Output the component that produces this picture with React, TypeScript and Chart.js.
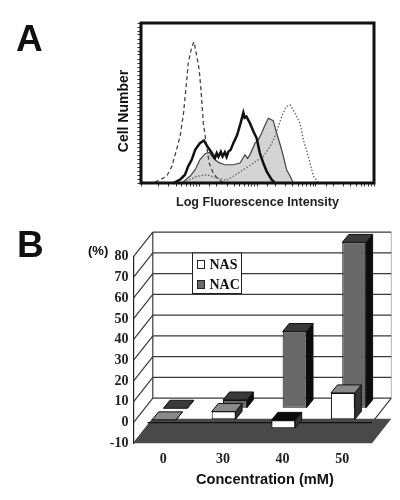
import React, { useEffect, useRef } from "react";
import { Chart, registerables } from "chart.js";

Chart.register(...registerables);

// Panel A: log10 intensity / cell count
const dashedLog = [0, 0.21, 0.33, 0.44, 0.53, 0.61, 0.67, 0.73, 0.78, 0.81, 0.87, 0.91, 0.96, 1.0, 1.03, 1.07, 1.12, 1.17, 1.24, 1.33, 1.41, 1.59];
const dashedCount = [0, 0.2, 2.1, 4.2, 10.4, 20.8, 29, 43.6, 62.2, 74.7, 85, 88.2, 78.8, 70.5, 58, 37.4, 24.9, 12.5, 6.2, 2.1, 0.4, 0];
const thickLog = [0.555, 0.67, 0.755, 0.81, 0.87, 0.93, 1.01, 1.08, 1.14, 1.2, 1.27, 1.3, 1.33, 1.37, 1.4, 1.44, 1.47, 1.5, 1.54, 1.585, 1.65, 1.71, 1.757, 1.78, 1.81, 1.87, 1.93, 1.986, 2.04, 2.1, 2.157, 2.243, 2.3];
const thickCount = [0, 2.1, 5.2, 10.4, 14.5, 20.8, 24.9, 26.6, 22.8, 19.7, 15.6, 18.6, 16.4, 19.4, 16.6, 19.2, 16.4, 19.6, 20.8, 24.9, 30, 37.4, 44, 40.8, 41.5, 37.4, 32.2, 28, 18.7, 12.5, 7.3, 2.1, 0];
const filledLog = [0.7, 0.84, 0.93, 1.01, 1.1, 1.17, 1.24, 1.33, 1.44, 1.585, 1.7, 1.74, 1.785, 1.83, 1.87, 1.957, 2.014, 2.07, 2.13, 2.186, 2.27, 2.33, 2.415, 2.5, 2.56, 2.615];
const filledCount = [0, 4.2, 8.3, 14.5, 18.3, 19.1, 15.6, 12.9, 11.4, 11.4, 12.5, 15, 17.6, 15.4, 17.6, 24.9, 27, 31.1, 36.3, 40.5, 39, 31.1, 20.8, 8.3, 4.2, 0];
const dottedLog = [0.727, 0.956, 1.127, 1.3, 1.47, 1.585, 1.757, 1.93, 2.1, 2.215, 2.3, 2.358, 2.415, 2.49, 2.56, 2.644, 2.73, 2.787, 2.873, 2.96, 3.044, 3.13];
const dottedCount = [0, 4.2, 5.2, 3.1, 1.7, 4.2, 8.3, 12.5, 16.6, 22.8, 29, 35.3, 41.5, 47.7, 48.8, 43.6, 37.4, 27, 16.6, 4.2, 0.4, 0];

// Panel B
const concentrations = ["0", "30", "40", "50"];
const nasValues = [0, 4, -4, 13];
const nacValues = [0, 4, 37, 80];

const pts = (xs: number[], ys: number[]) => xs.map((x, i) => ({ x: 10 ** x, y: ys[i] }));

function dither(a: string, b: string) {
  const c = document.createElement("canvas");
  c.width = c.height = 2;
  const g = c.getContext("2d")!;
  g.fillStyle = a;
  g.fillRect(0, 0, 2, 2);
  g.fillStyle = b;
  g.fillRect(0, 0, 1, 1);
  g.fillRect(1, 1, 1, 1);
  return g.createPattern(c, "repeat")!;
}

export default function App() {
  const refA = useRef<HTMLCanvasElement>(null);
  const refB = useRef<HTMLCanvasElement>(null);

  useEffect(() => {
    const frame = {
      id: "frame",
      afterDraw(chart: any) {
        const { ctx, chartArea: a } = chart;
        ctx.save();
        ctx.strokeStyle = "#111";
        ctx.lineWidth = 3;
        ctx.strokeRect(a.left, a.top, a.right - a.left, a.bottom - a.top);
        ctx.restore();
      },
    };
    const chartA = new Chart(refA.current!, {
      type: "scatter",
      data: {
        datasets: [
          { label: "thick", data: pts(thickLog, thickCount), showLine: true, pointRadius: 0, borderColor: "#111", borderWidth: 2.5, tension: 0 },
          { label: "dashed", data: pts(dashedLog, dashedCount), showLine: true, pointRadius: 0, borderColor: "#444", borderWidth: 1.3, borderDash: [4, 3] },
          { label: "dotted", data: pts(dottedLog, dottedCount), showLine: true, pointRadius: 0, borderColor: "#666", borderWidth: 1.3, borderDash: [1.5, 1.8] },
          { label: "filled", data: pts(filledLog, filledCount), showLine: true, pointRadius: 0, borderColor: "#444", borderWidth: 1.2, backgroundColor: "#d4d4d4", fill: "origin" },
        ],
      },
      options: {
        animation: false,
        responsive: false,
        layout: { padding: { left: 113, right: 26, top: 23, bottom: 5 } },
        plugins: { legend: { display: false }, tooltip: { enabled: false } },
        scales: {
          x: {
            type: "logarithmic",
            min: 1,
            max: 10000,
            ticks: { display: false },
            grid: { drawOnChartArea: false, tickLength: 3.5, tickColor: "#333", tickWidth: 1 },
            border: { display: false },
            title: { display: true, text: "Log Fluorescence Intensity", color: "#222", font: { family: "Liberation Sans", weight: "bold", size: 12.6 }, padding: { top: 8, bottom: 0 } },
            afterFit(s: any) { s.height = 27; },
          },
          y: {
            min: 0,
            max: 100,
            ticks: { display: false, stepSize: 2.5 },
            grid: { drawOnChartArea: false, tickLength: 3.5, tickColor: "#333", tickWidth: 1 },
            border: { display: false },
            afterFit(s: any) { s.width = 28; },
          },
        },
      } as any,
      plugins: [frame],
    } as any);

    const dark = dither("#5e5e5e", "#737373");
    const floorFill = dither("#404040", "#525252");
    const DX = 19.3, DY = 24.5; // wall depth
    const boxD = 6.5, boxE = 8; // bar depth
    const shift = [{ x: 0.7, y: -2.7 }, { x: 12, y: -14.3 }];

    const wall = {
      id: "wall",
      beforeDatasetsDraw(chart: any) {
        const { ctx, chartArea: a, scales } = chart;
        const y = scales.y;
        const p0 = y.getPixelForValue(0);
        ctx.save();
        ctx.strokeStyle = "#b5b5b5";
        ctx.lineWidth = 1;
        ctx.beginPath();
        ctx.moveTo(a.right + DX, y.getPixelForValue(80) - DY);
        ctx.lineTo(a.right + DX, p0 - DY);
        ctx.stroke();
        ctx.strokeStyle = "#3a3a3a";
        ctx.lineWidth = 1.2;
        ctx.beginPath();
        for (let v = -10; v <= 80; v += 10) {
          const p = y.getPixelForValue(v);
          ctx.moveTo(a.left, p);
          ctx.lineTo(a.left + DX, p - DY);
          if (v >= 0) {
            ctx.moveTo(a.left + DX, p - DY);
            ctx.lineTo(a.right + DX, p - DY);
          }
        }
        ctx.moveTo(a.left + DX, y.getPixelForValue(80) - DY);
        ctx.lineTo(a.left + DX, p0 - DY);
        ctx.moveTo(a.right, p0);
        ctx.lineTo(a.right + DX, p0 - DY);
        ctx.stroke();
        const pb = y.getPixelForValue(-10);
        ctx.fillStyle = floorFill;
        ctx.beginPath();
        ctx.moveTo(a.left, pb);
        ctx.lineTo(a.right, pb);
        ctx.lineTo(a.right + DX, pb - DY);
        ctx.lineTo(a.left + DX, pb - DY);
        ctx.closePath();
        ctx.fill();
        ctx.strokeStyle = "#111";
        ctx.beginPath();
        ctx.moveTo(a.left + 14, p0);
        ctx.lineTo(a.right, p0);
        ctx.stroke();
        ctx.restore();
      },
      beforeDatasetDraw(chart: any, args: any) {
        const { ctx } = chart;
        const s = shift[args.index];
        ctx.save();
        ctx.translate(s.x, s.y);
        ctx.lineWidth = 1;
        ctx.strokeStyle = "#111";
        args.meta.data.forEach((el: any, i: number) => {
          const value = chart.data.datasets[args.index].data[i];
          const t = Math.min(el.y, el.base), b = Math.max(el.y, el.base);
          const r = el.x + el.width / 2, l = el.x - el.width / 2;
          ctx.fillStyle = args.index === 0 ? "#333" : "#0c0c0c";
          ctx.beginPath();
          ctx.moveTo(r, t); ctx.lineTo(r + boxD, t - boxE); ctx.lineTo(r + boxD, b - boxE); ctx.lineTo(r, b);
          ctx.closePath(); ctx.fill(); ctx.stroke();
          ctx.fillStyle = value < 0 ? "#0a0a0a" : args.index === 0 ? "#8a8a8a" : "#3a3a3a";
          ctx.beginPath();
          ctx.moveTo(l, t); ctx.lineTo(r, t); ctx.lineTo(r + boxD, t - boxE); ctx.lineTo(l + boxD, t - boxE);
          ctx.closePath(); ctx.fill(); ctx.stroke();
        });
      },
      afterDatasetDraw(chart: any) {
        chart.ctx.restore();
      },
      afterDatasetsDraw(chart: any) {
        const { ctx } = chart;
        const lx = 192.5, ly = 38, lw = 49, lh = 40.5;
        ctx.save();
        ctx.fillStyle = "#fff";
        ctx.strokeStyle = "#222";
        ctx.lineWidth = 1;
        ctx.fillRect(lx, ly, lw, lh);
        ctx.strokeRect(lx, ly, lw, lh);
        ctx.font = "bold 14px 'Liberation Serif'";
        ctx.textBaseline = "middle";
        chart.data.datasets.forEach((d: any, i: number) => {
          const cy = ly + 11.5 + i * 20;
          ctx.fillStyle = d.backgroundColor;
          ctx.fillRect(lx + 5, cy - 4, 7, 8);
          ctx.strokeRect(lx + 5, cy - 4, 7, 8);
          ctx.fillStyle = "#111";
          ctx.fillText(d.label, lx + 17, cy + 0.5);
        });
        ctx.restore();
      },
    };

    const chartB = new Chart(refB.current!, {
      type: "bar",
      data: {
        labels: concentrations,
        datasets: [
          { label: "NAS", data: nasValues, backgroundColor: "#ffffff", borderColor: "#111", borderWidth: 1, borderSkipped: false, clip: false },
          { label: "NAC", data: nacValues, backgroundColor: dark, borderColor: "#111", borderWidth: 1, borderSkipped: false, clip: false },
        ],
      },
      options: {
        animation: false,
        responsive: false,
        layout: { padding: { left: 73.5, right: 28, top: 41.7, bottom: 5 } },
        plugins: { legend: { display: false }, tooltip: { enabled: false } },
        datasets: { bar: { grouped: false, barPercentage: 1, categoryPercentage: 0.4 } },
        scales: {
          x: {
            grid: { display: false, drawTicks: false },
            border: { display: false },
            ticks: { color: "#222", padding: 8, font: { family: "Liberation Serif", weight: "bold", size: 14 } },
            afterFit(s: any) { s.height = 51.7; },
          },
          y: {
            min: -10,
            max: 80,
            grid: { drawOnChartArea: false, drawTicks: false },
            border: { color: "#222", width: 1.2 },
            ticks: { stepSize: 10, color: "#222", padding: 5, font: { family: "Liberation Serif", weight: "bold", size: 14 } },
            afterFit(s: any) { s.width = 60; },
          },
        },
      } as any,
      plugins: [wall],
    } as any);

    return () => {
      chartA.destroy();
      chartB.destroy();
    };
  }, []);

  const abs = { position: "absolute" as const, lineHeight: 1, whiteSpace: "nowrap" as const, color: "#111" };
  return (
    <div style={{ position: "absolute", left: 0, top: 0, width: 400, height: 500, background: "#fff", overflow: "hidden" }}>
      <canvas ref={refA} width={400} height={215} style={{ position: "absolute", left: 0, top: 0 }} />
      <canvas ref={refB} width={400} height={285} style={{ position: "absolute", left: 0, top: 215 }} />
      <div style={{ ...abs, left: 16, top: 18, font: "bold 37px 'Liberation Sans'" }}>A</div>
      <div style={{ ...abs, left: 17, top: 224, font: "bold 37px 'Liberation Sans'" }}>B</div>
      <div style={{ ...abs, left: 123, top: 111, transform: "translate(-50%,-50%) rotate(-90deg)", font: "bold 14px 'Liberation Sans'" }}>Cell Number</div>
      <div style={{ ...abs, left: 88, top: 243, font: "bold 13px 'Liberation Sans'" }}>(%)</div>
      <div style={{ ...abs, left: 196, top: 471, font: "bold 14.6px 'Liberation Sans'" }}>Concentration (mM)</div>
    </div>
  );
}
